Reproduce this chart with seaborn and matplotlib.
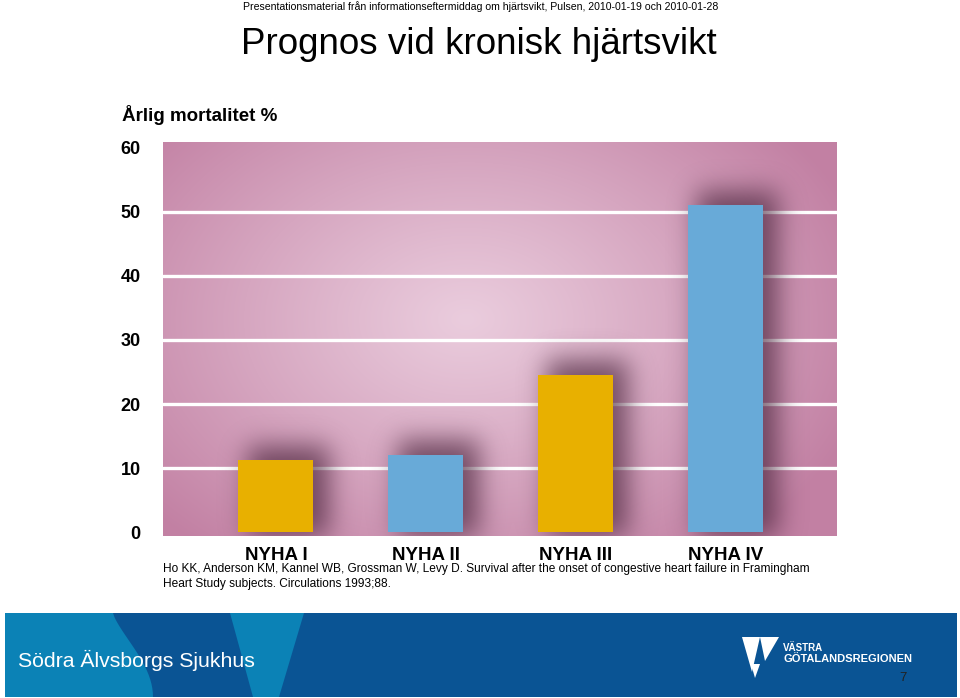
import numpy as np
import matplotlib
matplotlib.use("Agg")
import matplotlib.pyplot as plt
import seaborn as sns
import pandas as pd
from matplotlib.patches import Polygon

categories = ["NYHA I", "NYHA II", "NYHA III", "NYHA IV"]
values = [11.2, 12.1, 24.6, 51.1]
bar_colors = ["#e8b000", "#68aad8", "#e8b000", "#68aad8"]
yticks = [0, 10, 20, 30, 40, 50, 60]

sns.set_theme(style="white")
plt.rcParams['font.family'] = ['Liberation Sans', 'DejaVu Sans']
plt.rcParams['text.color'] = 'black'

W, H = 960, 698
fig = plt.figure(figsize=(W / 100, H / 100), dpi=100)

def fx(x): return x / W
def fy(y): return 1 - y / H

ax = fig.add_axes([fx(163), fy(536), fx(837) - fx(163), (536 - 142) / H])

df = pd.DataFrame({"cat": categories, "val": values})
sns.barplot(data=df, x="cat", y="val", hue="cat", palette=bar_colors,
            width=0.5, saturation=1, legend=False, ax=ax, zorder=3,
            edgecolor="none", linewidth=0)

ylo, yhi = -0.6, 60.9
xlo, xhi = -0.753, 3.74
ax.set_xlim(xlo, xhi)
ax.set_ylim(ylo, yhi)

# radial pink background
nx, ny = 674, 394
gx = np.linspace(0, 1, nx)
gy = np.linspace(0, 1, ny)
X, Y = np.meshgrid(gx, gy)
cx, cy = 0.45, 0.55
r = np.sqrt(((X - cx) / 0.62) ** 2 + ((Y - cy) / 0.75) ** 2)
t = np.clip(r, 0, 1) ** 1.1
c_in = np.array([0xea, 0xcc, 0xdd]) / 255
c_out = np.array([0xc2, 0x80, 0xa3]) / 255
img = c_in[None, None, :] * (1 - t[..., None]) + c_out[None, None, :] * t[..., None]
ax.imshow(img, extent=[xlo, xhi, ylo, yhi], origin="lower", aspect="auto", zorder=0)

for v in yticks[1:-1]:
    ax.axhline(v, color="white", lw=2.4, zorder=1)

# soft blurred shadow behind each bar
dx = np.linspace(xlo, xhi, nx)
dy = np.linspace(ylo, yhi, ny)
DX, DY = np.meshgrid(dx, dy)
mask = np.zeros_like(DX)
for i, v in enumerate(values):
    mask[(np.abs(DX - (i + 0.08)) < 0.27) & (DY < v + 2.2)] = 1.0

sig = 13
kx = np.arange(-3 * sig, 3 * sig + 1)
kern = np.exp(-0.5 * (kx / sig) ** 2)
kern /= kern.sum()
blur = np.apply_along_axis(lambda m: np.convolve(m, kern, mode="same"), 1, mask)
blur = np.apply_along_axis(lambda m: np.convolve(m, kern, mode="same"), 0, blur)
shadow = np.zeros((ny, nx, 4))
shadow[..., :3] = np.array([0x48, 0x22, 0x3a]) / 255
shadow[..., 3] = np.clip(blur, 0, 1) * 0.7
ax.imshow(shadow, extent=[xlo, xhi, ylo, yhi], origin="lower", aspect="auto", zorder=2)

for s in ax.spines.values():
    s.set_visible(False)
ax.set_xlabel("")
ax.set_ylabel("")
ax.set_yticks(yticks)
ax.set_yticklabels([str(v) for v in yticks], fontsize=13, fontweight="bold", color="black")
ax.tick_params(axis="y", length=0, pad=16)
ax.set_xticks(range(len(categories)))
ax.set_xticklabels(categories, fontsize=13.5, fontweight="bold", color="black")
ax.tick_params(axis="x", length=0, pad=8)

fig.text(fx(122), fy(115), "Årlig mortalitet %", fontsize=13.5, fontweight="bold",
         ha="left", va="center")
fig.text(fx(243), fy(7), "Presentationsmaterial från informationseftermiddag om hjärtsvikt, Pulsen, 2010-01-19 och 2010-01-28",
         fontsize=7.6, ha="left", va="center")
fig.text(fx(241), fy(44), "Prognos vid kronisk hjärtsvikt", fontsize=26.5, ha="left", va="center")
fig.text(fx(163), fy(569), "Ho KK, Anderson KM, Kannel WB, Grossman W, Levy D. Survival after the onset of congestive heart failure in Framingham",
         fontsize=8.6, ha="left", va="center")
fig.text(fx(163), fy(584), "Heart Study subjects. Circulations 1993;88.", fontsize=8.6, ha="left", va="center")

# footer band
def fpoly(pts, color):
    p = Polygon([(fx(x), fy(y)) for x, y in pts], closed=True, transform=fig.transFigure,
                facecolor=color, edgecolor="none", zorder=0)
    fig.patches.append(p)

fpoly([(5, 613), (957, 613), (957, 697), (5, 697)], "#0a5494")
curve = [(5, 613), (113, 613)]
for tt in np.linspace(0, 1, 20):
    curve.append((113 + 40 * np.sin(tt * np.pi / 2) ** 1.3, 613 + 84 * tt))
curve.append((5, 697))
fpoly(curve, "#0b82b6")
fpoly([(230, 613), (304, 613), (279, 697), (253, 697)], "#0b82b6")

fig.text(fx(18), fy(660), "Södra Älvsborgs Sjukhus", fontsize=15.3, color="white",
         ha="left", va="center")
# logo
fpoly([(742, 637), (760, 637), (752, 672)], "white")
fpoly([(760, 637), (779, 637), (765, 661)], "white")
fpoly([(751, 664), (760, 664), (755, 678)], "white")
fig.text(fx(783), fy(648), "VÄSTRA", fontsize=7, color="white", fontweight="bold",
         ha="left", va="center")
fig.text(fx(783), fy(659), "GÖTALANDSREGIONEN", fontsize=8, color="white", fontweight="bold",
         ha="left", va="center")
fig.text(fx(903), fy(678), "7", fontsize=9.5, color="#222222", ha="center", va="center")

fig.savefig("out.png", dpi=100, facecolor="white")
